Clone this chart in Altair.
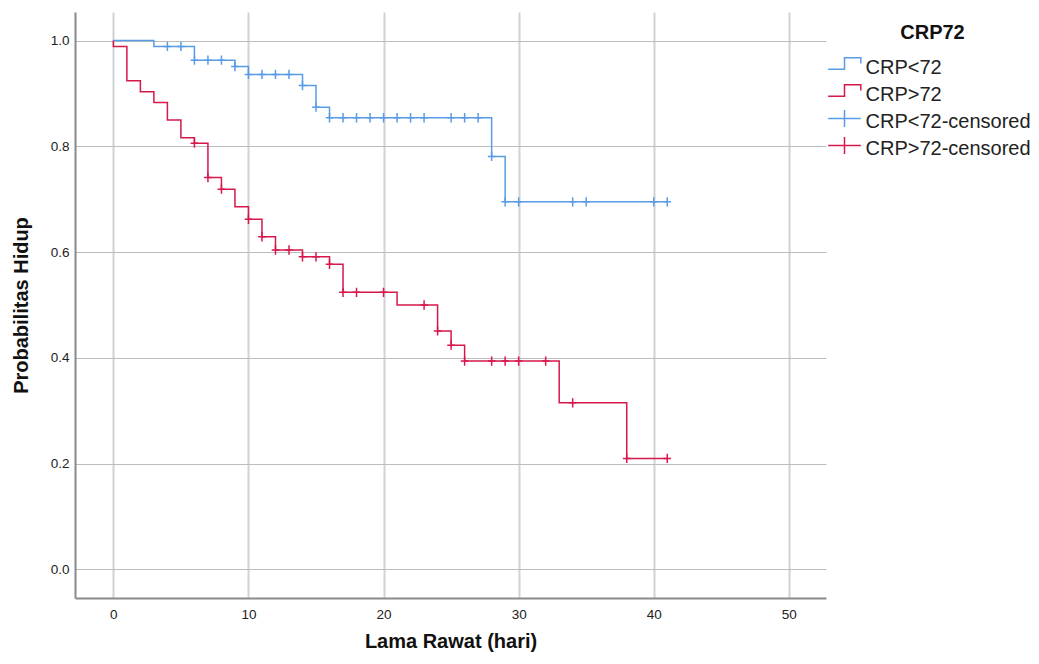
import altair as alt
import pandas as pd

# ---- legend categories / colours ----
series_names = ["CRP<72", "CRP>72", "CRP<72-censored", "CRP>72-censored"]
series_colors = ["#5a9be6", "#d6184b", "#5a9be6", "#d6184b"]

# ---- Kaplan-Meier step curves (time in days, survival probability) ----
low_t = [0, 3, 6, 9, 10, 14, 15, 16, 28, 29, 41]
low_s = [1.0, 0.989, 0.963, 0.951, 0.936, 0.915, 0.874, 0.854, 0.781, 0.695, 0.695]

high_t = [0, 0, 1, 2, 3, 4, 5, 6, 7, 8, 9, 10, 11, 12, 14, 16, 17, 21, 24, 25, 26, 33, 38, 41]
high_s = [1.0, 0.989, 0.924, 0.903, 0.883, 0.850, 0.816, 0.806, 0.741, 0.719, 0.686, 0.662,
          0.629, 0.604, 0.591, 0.577, 0.524, 0.500, 0.451, 0.424, 0.394, 0.315, 0.210, 0.210]

# ---- censored observations ----
low_cens_t = [4, 5, 6, 7, 8, 9, 10, 11, 12, 13, 14, 15, 16, 17, 18, 19, 20, 21, 22, 23, 25, 26,
              27, 28, 29, 30, 34, 35, 40, 41]
low_cens_s = [0.989, 0.989, 0.963, 0.963, 0.963, 0.951, 0.936, 0.936, 0.936, 0.936, 0.915, 0.874,
              0.854, 0.854, 0.854, 0.854, 0.854, 0.854, 0.854, 0.854, 0.854, 0.854, 0.854, 0.781,
              0.695, 0.695, 0.695, 0.695, 0.695, 0.695]

high_cens_t = [6, 7, 8, 10, 11, 12, 13, 14, 15, 16, 17, 18, 20, 23, 24, 25, 26, 28, 29, 30, 32,
               34, 38, 41]
high_cens_s = [0.806, 0.741, 0.719, 0.662, 0.629, 0.604, 0.604, 0.591, 0.591, 0.577, 0.524, 0.524,
               0.524, 0.500, 0.451, 0.424, 0.394, 0.394, 0.394, 0.394, 0.394, 0.315, 0.210, 0.210]

x_ticks = [0, 10, 20, 30, 40, 50]
y_ticks = [0.0, 0.2, 0.4, 0.6, 0.8, 1.0]

# ---- tables ----
lines = pd.DataFrame({
    "t": low_t + high_t,
    "s": low_s + high_s,
    "series": ["CRP<72"] * len(low_t) + ["CRP>72"] * len(high_t),
    "idx": list(range(len(low_t))) + list(range(len(high_t))),
})
cens = pd.DataFrame({
    "t": low_cens_t + high_cens_t,
    "s": low_cens_s + high_cens_s,
    "series": ["CRP<72-censored"] * len(low_cens_t) + ["CRP>72-censored"] * len(high_cens_t),
})
legend_rows = pd.DataFrame({"t": [None] * 4, "s": [None] * 4, "series": series_names})

FONT = "Liberation Sans"

step_path = "M-2.04,0.15H0V-1.27H2.04V-0.56"
cross_path = "M-2.04,-0.44H2.04M0,-1.5V0.62"
legend_shapes = [step_path, step_path, cross_path, cross_path]

legend_def = alt.Legend(
    title="CRP72", orient="none", legendX=759.5, legendY=10.5,
    titleFontSize=20, titleFontWeight="bold", titleColor="#111", titleFont=FONT,
    titleAnchor="middle", titlePadding=15.5,
    labelFontSize=20, labelColor="#222", labelFont=FONT, labelOffset=11, labelLimit=0,
    symbolSize=256, symbolStrokeWidth=1.5, rowPadding=2, padding=0, gridAlign="all",
)

x_enc = alt.X("t:Q", scale=alt.Scale(domain=[-2.84, 52.75], nice=False, zero=False),
              axis=alt.Axis(values=x_ticks, title="Lama Rawat (hari)", format="d",
                            labelPadding=9, titlePadding=11, gridColor="#d2d2d2", gridWidth=2))
y_enc = alt.Y("s:Q", scale=alt.Scale(domain=[-0.054, 1.054], nice=False, zero=False),
              axis=alt.Axis(values=y_ticks, title="Probabilitas Hidup", format=".1f",
                            labelPadding=6, titlePadding=19, gridColor="#bdbdbd", gridWidth=1.2))
color_enc = alt.Color("series:N", scale=alt.Scale(domain=series_names, range=series_colors),
                      legend=legend_def)

line_layer = alt.Chart(lines).mark_line(interpolate="step-after", strokeWidth=1.5).encode(
    x=x_enc, y=y_enc, color=color_enc, order=alt.Order("idx:Q")
)

cens_layer = alt.Chart(cens).mark_point(
    shape="M-0.9,0H0.9M0,-1.1V1.1", size=72, filled=False, strokeWidth=1.5, opacity=1
).encode(x="t:Q", y="s:Q", color=color_enc)

legend_layer = alt.Chart(legend_rows).mark_point(filled=False, strokeWidth=1.5, opacity=1).encode(
    x="t:Q", y="s:Q", color=color_enc,
    shape=alt.Shape("series:N", scale=alt.Scale(domain=series_names, range=legend_shapes),
                    legend=legend_def),
)

chart = alt.layer(line_layer, cens_layer, legend_layer).properties(
    width=751, height=586,
    padding={"left": 67, "top": 4, "right": 205, "bottom": 56},
    autosize=alt.AutoSizeParams(type="none"),
).configure_view(stroke=None).configure_axis(
    labelFont=FONT, labelFontSize=13.5, labelColor="#222",
    titleFont=FONT, titleFontSize=20, titleFontWeight="bold", titleColor="#111",
    ticks=False, domainColor="#8a8a8a", domainWidth=2,
)

chart.save("out.html", embed_options={"renderer": "svg", "actions": False})
